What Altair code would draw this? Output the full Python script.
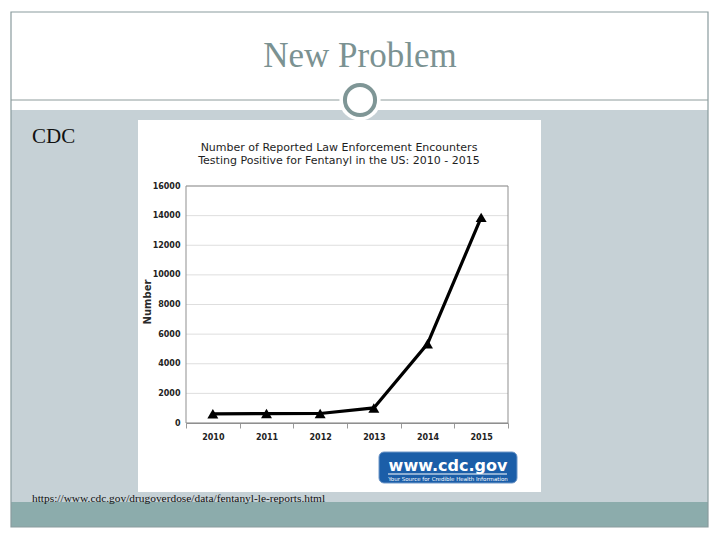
import altair as alt
import pandas as pd

# ---- data ----
years = ["2010", "2011", "2012", "2013", "2014", "2015"]
counts = [618, 638, 641, 1015, 5343, 13882]
y_ticks = [0, 2000, 4000, 6000, 8000, 10000, 12000, 14000, 16000]

slide_title = "New Problem"
side_label = "CDC"
source_url = "https://www.cdc.gov/drugoverdose/data/fentanyl-le-reports.html"
chart_title = ["Number of Reported Law Enforcement Encounters",
               "Testing Positive for Fentanyl in the US: 2010 - 2015"]
y_title = "Number"
logo_main = "www.cdc.gov"
logo_sub = "Your Source for Credible Health Information"

df = pd.DataFrame({"year": years, "count": counts})
grid_df = pd.DataFrame({"count": y_ticks})
one = pd.DataFrame({"a": [0]})

# plot area geometry (page coordinates of the plot origin = 186,186)
W, H = 322, 237
OX, OY = 186, 186


def px(x):
    return x - OX


def py(y):
    return y - OY


def rect(x1, y1, x2, y2, **kw):
    return alt.Chart(one).mark_rect(**kw).encode(
        x=alt.value(px(x1)), x2=alt.value(px(x2)),
        y=alt.value(py(y1)), y2=alt.value(py(y2)))


def text(t, x, y, **kw):
    return alt.Chart(one).mark_text(text=t, **kw).encode(
        x=alt.value(px(x)), y=alt.value(py(y)))


# ---- slide decorations ----
grey_band = rect(11, 110, 708, 502, color="#c6d1d6")
bottom_band = rect(11, 502, 708, 527, color="#8cacac")
frame = rect(11, 12, 708, 527, fill=None, stroke="#8a9c9e", strokeWidth=1.2, filled=False)
hline = alt.Chart(one).mark_rule(color="#8e9c9c", strokeWidth=1).encode(
    x=alt.value(px(11)), x2=alt.value(px(708)), y=alt.value(py(100)))
halo = alt.Chart(one).mark_point(shape="circle", filled=True, color="white",
                                 size=1700, opacity=1).encode(
    x=alt.value(px(360)), y=alt.value(py(100)))
ring = alt.Chart(one).mark_point(shape="circle", filled=False, color="#7f9696",
                                 strokeWidth=4, size=908, opacity=1).encode(
    x=alt.value(px(360)), y=alt.value(py(100)))
title_txt = text(slide_title, 360, 67, font="Liberation Serif", fontSize=35,
                 color="#7b9292", align="center", baseline="alphabetic")
cdc_txt = text(side_label, 32, 143, font="Liberation Serif", fontSize=21,
               color="#111111", align="left", baseline="alphabetic")
url_txt = text(source_url, 32, 502, font="Liberation Serif", fontSize=11.4,
               color="#111111", align="left", baseline="alphabetic")

# ---- embedded chart image ----
white_img = rect(138, 120, 541, 492, color="white")
ct1 = text(chart_title[0], 339, 151, font="DejaVu Sans", fontSize=11,
           color="#1e1e1e", align="center", baseline="alphabetic")
ct2 = text(chart_title[1], 339, 164, font="DejaVu Sans", fontSize=11,
           color="#1e1e1e", align="center", baseline="alphabetic")
ytitle = text(y_title, 148, 302, font="DejaVu Sans", fontSize=10, fontWeight="bold",
              color="#2a2a2a", align="center", baseline="middle", angle=270)

yscale = alt.Scale(domain=[0, 16000])
xscale = alt.Scale(type="band", paddingInner=0, paddingOuter=0, domain=years)

y_axis = alt.Axis(title=None, values=y_ticks, format="d", grid=False, ticks=False,
                  domain=False, labelFont="DejaVu Sans", labelFontSize=8,
                  labelFontWeight="bold", labelColor="#222222",
                  labelPadding=6, zindex=1)

grid = alt.Chart(grid_df).mark_rule(color="#dedede", strokeWidth=1).encode(
    y=alt.Y("count:Q", scale=yscale, axis=y_axis),
    x=alt.value(0), x2=alt.value(W))
plot_frame = alt.Chart(one).mark_rect(filled=False, fill=None, stroke="#8f8f8f",
                                      strokeWidth=1).encode(
    x=alt.value(0), x2=alt.value(W), y=alt.value(0), y2=alt.value(H))

x_enc = alt.X("year:N", scale=xscale, bandPosition=0.5, sort=years,
              axis=alt.Axis(title=None, tickBand="extent", labelAngle=0,
                            labelFont="DejaVu Sans", labelFontSize=8,
                            labelFontWeight="bold", labelColor="#222222",
                            tickColor="#9a9a9a", tickSize=5, labelPadding=5,
                            domainColor="#8f8f8f", grid=False, zindex=1))
y_enc = alt.Y("count:Q", scale=yscale, axis=y_axis)

line = alt.Chart(df).mark_line(color="black", strokeWidth=3.2).encode(x=x_enc, y=y_enc)
pts = alt.Chart(df).mark_point(shape="triangle-up", filled=True, color="black",
                               size=120, opacity=1).encode(x=x_enc, y=y_enc)

# ---- CDC logo ----
logo = rect(379, 452, 517, 483, color="#1b5ea8", stroke="#6f97c8",
            strokeWidth=1, cornerRadius=5)
logo_t = text(logo_main, 448, 471, font="DejaVu Sans", fontSize=16, fontWeight="bold",
              color="white", align="center", baseline="alphabetic")
logo_u = alt.Chart(one).mark_rule(color="white", strokeWidth=1.2).encode(
    x=alt.value(px(388)), x2=alt.value(px(507)), y=alt.value(py(474)))
logo_s = text(logo_sub, 448, 480.5, font="DejaVu Sans", fontSize=5.5,
              color="white", align="center", baseline="alphabetic")

chart = alt.layer(
    grey_band, bottom_band, frame, hline, halo, ring, title_txt, cdc_txt, url_txt,
    white_img, ct1, ct2, ytitle, grid, plot_frame, line, pts,
    logo, logo_t, logo_u, logo_s,
).properties(
    width=W, height=H,
    autosize=alt.AutoSizeParams(type="none"),
    padding={"left": 178, "top": 178, "right": 202, "bottom": 105},
    background="white",
).configure_view(stroke=None, fill=None)

chart.save("out.html", embed_options={"renderer": "svg", "actions": False})
